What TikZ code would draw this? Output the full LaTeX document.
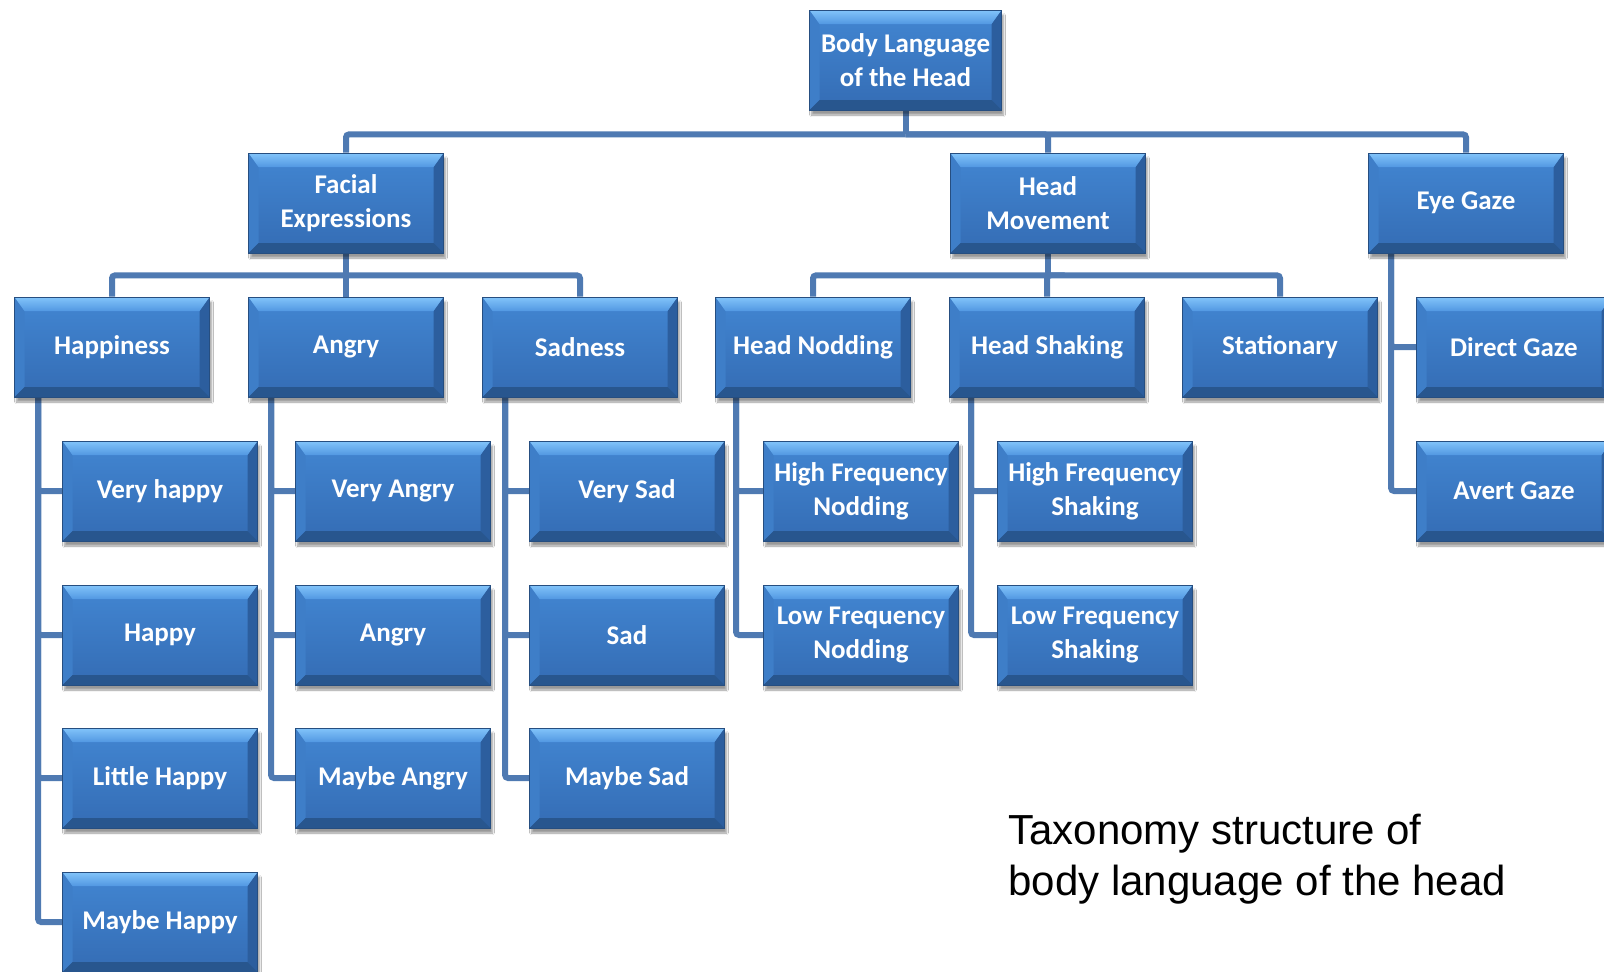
\documentclass[tikz,border=0pt]{standalone}
\usepackage{fontspec}
\setmainfont{Carlito}
\newfontfamily\capfont{Liberation Sans}
\usetikzlibrary{shadows.blur,backgrounds}
\definecolor{ftop}{RGB}{66,134,210}
\definecolor{fbot}{RGB}{52,108,180}
\definecolor{bevt1}{RGB}{130,196,250}
\definecolor{bevt2}{RGB}{82,152,226}
\definecolor{bevb}{RGB}{40,86,142}
\definecolor{bevl}{RGB}{62,126,200}
\definecolor{bevr}{RGB}{44,94,158}
\definecolor{bdark}{RGB}{38,78,128}
\definecolor{conncol}{RGB}{79,122,178}
\tikzset{
  bevelbox/.style={rectangle, minimum width=195pt, minimum height=100pt, inner sep=0pt,
    align=center, text=white, font=\bfseries\fontsize{27}{34}\selectfont,
    top color=ftop, bottom color=fbot, draw=bdark, line width=0.8pt,
    blur shadow={shadow xshift=2pt, shadow yshift=-5pt, shadow blur steps=8, shadow opacity=40},
    path picture={
      \coordinate (pNW) at (path picture bounding box.north west);
      \coordinate (pNE) at (path picture bounding box.north east);
      \coordinate (pSW) at (path picture bounding box.south west);
      \coordinate (pSE) at (path picture bounding box.south east);
      \fill[bevl] (pNW) -- ([xshift=10pt,yshift=-14pt]pNW) -- ([xshift=10pt,yshift=10pt]pSW) -- (pSW) -- cycle;
      \fill[bevr] (pNE) -- ([xshift=-10pt,yshift=-14pt]pNE) -- ([xshift=-10pt,yshift=10pt]pSE) -- (pSE) -- cycle;
      \fill[bevb] (pSW) -- ([xshift=10pt,yshift=10pt]pSW) -- ([xshift=-10pt,yshift=10pt]pSE) -- (pSE) -- cycle;
      \shade[top color=bevt1, bottom color=bevt2] (pNW) -- (pNE) -- ([xshift=-10pt,yshift=-14pt]pNE) -- ([xshift=10pt,yshift=-14pt]pNW) -- cycle;
    }},
  conn/.style={draw=conncol, line width=6pt, rounded corners=3pt}
}
\begin{document}
\begin{tikzpicture}[x=1pt,y=-1pt]
\useasboundingbox (0,0) rectangle (1604,972);
% level 0
\node[bevelbox, minimum width=192pt] (root) at (905.5,60) {Body Language\\of the Head};
% level 1
\node[bevelbox] (fe) at (346,203) {Facial\\Expressions};
\node[bevelbox] (hm) at (1048,203) {Head\\Movement};
\node[bevelbox] (eg) at (1466,203) {Eye Gaze};
% level 2
\node[bevelbox] (hap) at (112,347) {Happiness};
\node[bevelbox] (ang) at (346,347) {Angry};
\node[bevelbox] (sad) at (580,347) {Sadness};
\node[bevelbox] (hn) at (813,347) {Head Nodding};
\node[bevelbox] (hs) at (1047,347) {Head Shaking};
\node[bevelbox] (sta) at (1280,347) {Stationary};
\node[bevelbox] (dg) at (1514,347) {Direct Gaze};
% level 3
\node[bevelbox] (h1) at (160,491) {Very happy};
\node[bevelbox] (h2) at (160,635) {Happy};
\node[bevelbox] (h3) at (160,778) {Little Happy};
\node[bevelbox] (h4) at (160,922) {Maybe Happy};
\node[bevelbox] (a1) at (393,491) {Very Angry};
\node[bevelbox] (a2) at (393,635) {Angry};
\node[bevelbox] (a3) at (393,778) {Maybe Angry};
\node[bevelbox] (s1) at (627,491) {Very Sad};
\node[bevelbox] (s2) at (627,635) {Sad};
\node[bevelbox] (s3) at (627,778) {Maybe Sad};
\node[bevelbox] (n1) at (861,491) {High Frequency\\Nodding};
\node[bevelbox] (n2) at (861,635) {Low Frequency\\Nodding};
\node[bevelbox] (k1) at (1095,491) {High Frequency\\Shaking};
\node[bevelbox] (k2) at (1095,635) {Low Frequency\\Shaking};
\node[bevelbox] (ag) at (1514,491) {Avert Gaze};
% caption
\node[anchor=west, align=left, font=\capfont\fontsize{42}{51}\selectfont] (cap) at (1005,859) {Taxonomy structure of\\body language of the head};
% connectors
\begin{scope}[on background layer]
\fill[white] (0,0) rectangle (1604,972);
\draw[conn] (root.south) -- ++(0,24) coordinate (rb);
\draw[conn] (rb) -| (fe.north);
\draw[conn] (rb) -| (hm.north);
\draw[conn] (rb) -| (eg.north);
\draw[conn] (fe.south) -- ++(0,22) coordinate (fb);
\draw[conn] (fb) -| (hap.north);
\draw[conn] (fb) -| (ang.north);
\draw[conn] (fb) -| (sad.north);
\draw[conn] (hm.south) -- ++(0,22) coordinate (mb);
\draw[conn] (mb) -| (hn.north);
\draw[conn] (mb) -| (hs.north);
\draw[conn] (mb) -| (sta.north);
\coordinate (hapv) at ([xshift=24pt]hap.south west);
\draw[conn] (hapv) |- (h1.west);
\draw[conn] (hapv) |- (h2.west);
\draw[conn] (hapv) |- (h3.west);
\draw[conn] (hapv) |- (h4.west);
\coordinate (angv) at ([xshift=23pt]ang.south west);
\draw[conn] (angv) |- (a1.west);
\draw[conn] (angv) |- (a2.west);
\draw[conn] (angv) |- (a3.west);
\coordinate (sadv) at ([xshift=23pt]sad.south west);
\draw[conn] (sadv) |- (s1.west);
\draw[conn] (sadv) |- (s2.west);
\draw[conn] (sadv) |- (s3.west);
\coordinate (hnv) at ([xshift=21pt]hn.south west);
\draw[conn] (hnv) |- (n1.west);
\draw[conn] (hnv) |- (n2.west);
\coordinate (hsv) at ([xshift=22pt]hs.south west);
\draw[conn] (hsv) |- (k1.west);
\draw[conn] (hsv) |- (k2.west);
\coordinate (egv) at ([xshift=23pt]eg.south west);
\draw[conn] (egv) |- (dg.west);
\draw[conn] (egv) |- (ag.west);
\end{scope}
\end{tikzpicture}
\end{document}
